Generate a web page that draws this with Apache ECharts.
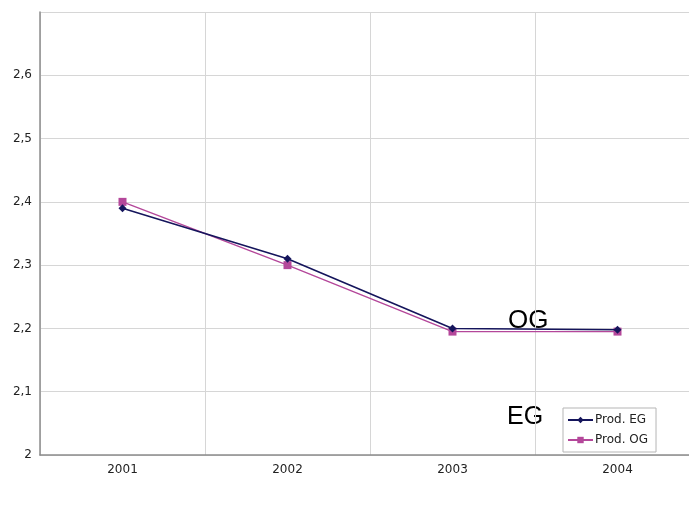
<!DOCTYPE html>
<html>
<head>
<meta charset="utf-8">
<script src="https://cdn.jsdelivr.net/npm/echarts@6/dist/echarts.min.js"></script>
<style>
  html, body { margin: 0; padding: 0; background: #fff; overflow: hidden; }
  /* the plot frame continues a little past the right edge of the window */
  #chart { width: 700px; height: 505px; }
</style>
</head>
<body>
<div id="chart"></div>
<script>
// Production figures per year
const years = ['2001', '2002', '2003', '2004'];
const prodEG = [2.39, 2.31, 2.20, 2.198];
const prodOG = [2.40, 2.30, 2.195, 2.195];
const seriesNames = ['Prod. EG', 'Prod. OG'];

const chart = echarts.init(document.getElementById('chart'));
const labelFont = 'DejaVu Sans, Verdana, sans-serif';

chart.setOption({
  animation: false,
  backgroundColor: '#ffffff',
  grid: { left: 40, top: 12, right: 0, bottom: 50 },
  xAxis: {
    type: 'category',
    data: years,
    boundaryGap: true,
    axisLine: { lineStyle: { color: '#8c8c8c', width: 1.5 } },
    axisTick: { show: false },
    axisLabel: { color: '#222', fontFamily: labelFont, fontSize: 12, margin: 9 },
    splitLine: { show: true, lineStyle: { color: '#d6d6d6', width: 1 } }
  },
  yAxis: {
    type: 'value',
    min: 2,
    max: 2.7,
    interval: 0.1,
    axisLine: { show: true, lineStyle: { color: '#8c8c8c', width: 1.5 } },
    axisTick: { show: false },
    axisLabel: {
      color: '#222', fontFamily: labelFont, fontSize: 12, margin: 8,
      showMaxLabel: false,
      formatter: v => String(Math.round(v * 10) / 10).replace('.', ',')
    },
    splitLine: { lineStyle: { color: '#d6d6d6', width: 1 } }
  },
  legend: {
    orient: 'vertical',
    left: 563,
    top: 408,
    padding: [6, 8, 6, 4],
    itemGap: 8,
    itemWidth: 25,
    itemHeight: 8,
    borderColor: '#b5b5b5',
    borderWidth: 1,
    backgroundColor: '#fff',
    textStyle: { fontFamily: labelFont, fontSize: 12, color: '#222', padding: [0, 0, 0, -3] },
    data: seriesNames
  },
  series: [
    {
      name: seriesNames[0],
      type: 'line',
      data: prodEG,
      symbol: 'diamond',
      symbolSize: 8,
      color: '#15155c',
      lineStyle: { color: '#15155c', width: 1.6 },
      itemStyle: { color: '#15155c' },
      z: 3
    },
    {
      name: seriesNames[1],
      type: 'line',
      data: prodOG,
      symbol: 'rect',
      symbolSize: 8,
      color: '#b4479a',
      lineStyle: { color: '#b4479a', width: 1.4 },
      itemStyle: { color: '#b4479a' },
      z: 2
    }
  ],
  graphic: [
    {
      type: 'text', left: 508, top: 308,
      style: { text: 'OG', font: '26px "Liberation Sans", Arial, sans-serif', fill: '#000' }
    },
    {
      type: 'text', left: 507, top: 405,
      style: { text: 'EG', font: '25px "Liberation Sans", Arial, sans-serif', fill: '#000' }
    }
  ]
});
</script>
</body>
</html>
